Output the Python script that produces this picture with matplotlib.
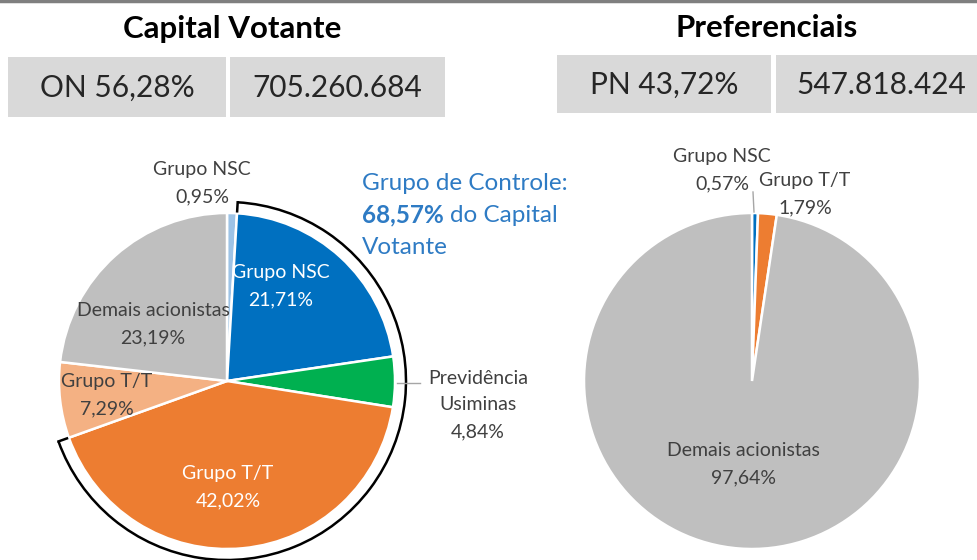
import numpy as np
import matplotlib
matplotlib.use("Agg")
import matplotlib.pyplot as plt
from matplotlib.patches import Rectangle, Arc

plt.rcParams['font.family'] = ['Lato', 'DejaVu Sans']

# data
vot_labels = ["Grupo NSC", "Grupo NSC", "Previdência\nUsiminas", "Grupo T/T",
              "Grupo T/T", "Demais acionistas"]
vot_values = [0.95, 21.71, 4.84, 42.02, 7.29, 23.19]
vot_colors = ["#9dc3e6", "#0070c0", "#00b050", "#ed7d31", "#f4b183", "#bfbfbf"]

pref_labels = ["Grupo NSC", "Grupo T/T", "Demais acionistas"]
pref_values = [0.57, 1.79, 97.64]
pref_colors = ["#0070c0", "#ed7d31", "#bfbfbf"]

on_pct, on_qty = "ON 56,28%", "705.260.684"
pn_pct, pn_qty = "PN 43,72%", "547.818.424"
controle_pct = 68.57


def fmt(v):
    return "{:.2f}%".format(v).replace(".", ",")


W, H = 977, 560
fig = plt.figure(figsize=(W / 100, H / 100), dpi=100)
ax = fig.add_axes([0, 0, 1, 1])

txt = "#404040"
R = 168
c_left = (227, 179)
c_right = (752, 179)

wp = dict(edgecolor="white", linewidth=1.8)
ax.pie(vot_values, colors=vot_colors, startangle=90, counterclock=False,
       center=c_left, radius=R, wedgeprops=wp, frame=True)
ax.pie(pref_values, colors=pref_colors, startangle=90, counterclock=False,
       center=c_right, radius=R, wedgeprops=wp, frame=True)
ax.set_xlim(0, W)
ax.set_ylim(0, H)
ax.set_aspect("equal")
ax.set_axis_off()

# top border
ax.plot([0, W], [H - 1, H - 1], color="#7f7f7f", lw=2.5)

# headers
ax.text(232, H - 29, "Capital Votante", ha="center", va="center",
        fontsize=22.5, fontweight="bold", color="black")
ax.text(767, H - 28, "Preferenciais", ha="center", va="center",
        fontsize=22.5, fontweight="bold", color="black")

for (x0, x1, y0, y1, s) in [(8, 226, 443, 503, on_pct),
                            (230, 445, 443, 503, on_qty),
                            (557, 771, 447, 505, pn_pct),
                            (776, 980, 447, 505, pn_qty)]:
    ax.add_patch(Rectangle((x0, y0), x1 - x0, y1 - y0, color="#d9d9d9", lw=0))
    ax.text((x0 + min(x1, W)) / 2 + (5 if x1 > W else 0), (y0 + y1) / 2 - 1, s,
            ha="center", va="center", fontsize=21.5, color="#262626")

# labels, left pie
lab_pos_left = [(202, 377, txt), (281, 274, "white"), (478, 155, txt),
                (228, 73, "white"), (107, 165, txt), (153, 236, txt)]
for lab, v, (x, y, col) in zip(vot_labels, vot_values, lab_pos_left):
    ax.text(x, y, lab + "\n" + fmt(v), ha="center", va="center",
            fontsize=14, color=col, linespacing=1.7)

# leader for Previdência
ax.plot([397, 420], [177, 177], color="#a6a6a6", lw=1)

# labels, right pie
lab_pos_right = [(722, 390, txt), (805, 366, txt), (743, 96, txt)]
for lab, v, (x, y, col) in zip(pref_labels, pref_values, lab_pos_right):
    ax.text(x, y, lab + "\n" + fmt(v), ha="center", va="center",
            fontsize=14, color=col, linespacing=1.7)
ax.plot([754, 753], [348, 368], color="#a6a6a6", lw=1)

# controlling group bracket (Grupo NSC 21,71 + Previdência + Grupo T/T 42,02)
cum = np.cumsum([0] + vot_values)
a_start = 90 - 3.6 * cum[1]
a_end = 90 - 3.6 * cum[4]
rb = 179
ax.add_patch(Arc(c_left, 2 * rb, 2 * rb, theta1=a_end, theta2=a_start,
                 color="black", lw=1.8))
for a in (a_start, a_end):
    t = np.deg2rad(a)
    ax.plot([c_left[0] + rb * np.cos(t), c_left[0] + (rb - 9) * np.cos(t)],
            [c_left[1] + rb * np.sin(t), c_left[1] + (rb - 9) * np.sin(t)],
            color="black", lw=1.8)

blue = "#2e7bc4"
fs_c = 17.5
ax.text(362, H - 183, "Grupo de Controle:", ha="left", va="center",
        fontsize=fs_c, color=blue)
t1 = ax.text(362, H - 215, fmt(controle_pct), ha="left", va="center",
             fontsize=fs_c, color=blue, fontweight="bold")
fig.canvas.draw()
bb = t1.get_window_extent()
ax.text(bb.x1 + 6, H - 215, "do Capital", ha="left", va="center",
        fontsize=fs_c, color=blue)
ax.text(362, H - 247, "Votante", ha="left", va="center",
        fontsize=fs_c, color=blue)

fig.savefig("out.png", dpi=100)
